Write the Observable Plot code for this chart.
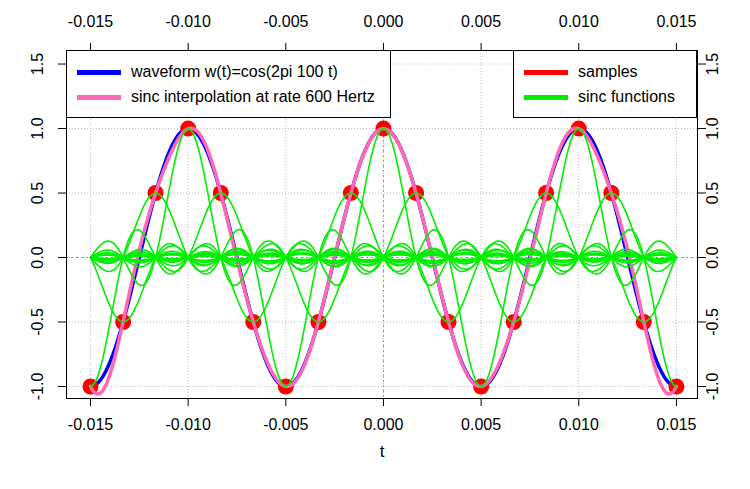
<!DOCTYPE html>
<html><head>
<script src="https://cdn.jsdelivr.net/npm/d3@7"></script>
<script src="https://cdn.jsdelivr.net/npm/@observablehq/plot@0.6"></script>
<style>
body{margin:0;background:#fff;font-family:"Liberation Sans",Arial,sans-serif}
#wrap{position:relative;width:750px;height:489px}
.leg{position:absolute;background:#fff;border:1px solid #000;font-size:16px;box-sizing:border-box}
.row{position:absolute;white-space:nowrap}
.sw{display:inline-block;width:44px;height:5px;vertical-align:middle;margin-right:10px}
</style>
</head><body>
<div id="wrap"></div>
<script>
const rate = 600;
const sampleTimes = [-0.015,-0.01333,-0.01167,-0.01,-0.00833,-0.00667,-0.005,-0.00333,-0.00167,0,0.00167,0.00333,0.005,0.00667,0.00833,0.01,0.01167,0.01333,0.015];
const sampleValues = [-1,-0.5,0.5,1,0.5,-0.5,-1,-0.5,0.5,1,0.5,-0.5,-1,-0.5,0.5,1,0.5,-0.5,-1];
const xTicks = [-0.015,-0.010,-0.005,0,0.005,0.010,0.015];
const yTicks = [-1,-0.5,0,0.5,1,1.5];

const sinc = x => x === 0 ? 1 : Math.sin(Math.PI*x)/(Math.PI*x);
const tGrid = d3.range(-0.015, 0.015000001, 0.00005);
const wave = tGrid.map(t => ({t, v: Math.cos(2*Math.PI*100*t)}));
const interp = tGrid.map(t => ({t, v: d3.sum(sampleTimes, (tk,i) => sampleValues[i]*sinc((t-tk)*rate))}));
const sincs = [];
sampleTimes.forEach((tk,i) => tGrid.filter((_,j)=>j%3===0).forEach(t => sincs.push({k:i, t, v: sampleValues[i]*sinc((t-tk)*rate)})));
const samples = sampleTimes.map((t,i)=>({t, v: sampleValues[i]}));
const fx = d => d.toFixed(3), fy = d => d.toFixed(1);

const plot = Plot.plot({
  width: 750, height: 489,
  marginLeft: 66, marginRight: 53, marginTop: 50, marginBottom: 91,
  x: {domain: [-0.01623, 0.01608]},
  y: {domain: [-1.093, 1.605]},
  style: {fontFamily: "Liberation Sans, Arial, sans-serif", fontSize: "16px", color: "#000"},
  marks: [
    Plot.gridX(xTicks, {stroke: "#bbb", strokeOpacity: 1, strokeDasharray: "1,2"}),
    Plot.gridY(yTicks, {stroke: "#bbb", strokeOpacity: 1, strokeDasharray: "1,2"}),
    Plot.ruleX([0], {stroke: "#33dd33", strokeDasharray: "2,3"}),
    Plot.ruleY([0], {stroke: "#33dd33", strokeDasharray: "2,3"}),
    Plot.line(wave, {x: "t", y: "v", stroke: "#0000ff", strokeWidth: 3.5}),
    Plot.dot(samples, {x: "t", y: "v", r: 8, fill: "#ff0000"}),
    Plot.line(interp, {x: "t", y: "v", stroke: "#ff69b4", strokeWidth: 3.5}),
    Plot.line(sincs, {x: "t", y: "v", z: "k", stroke: "#00ee00", strokeWidth: 1.6}),
    Plot.frame({stroke: "#000"}),
    Plot.axisX(xTicks, {anchor: "bottom", tickFormat: fx, tickSize: 8, tickPadding: 12, label: null, fontSize: 16}),
    Plot.axisX(xTicks, {anchor: "top", tickFormat: fx, tickSize: 8, tickPadding: 16, label: null, fontSize: 16}),
    Plot.axisY(yTicks, {anchor: "left", tickFormat: fy, tickSize: 8, tickPadding: 16, tickRotate: -90, label: null, fontSize: 16}),
    Plot.axisY(yTicks, {anchor: "right", tickFormat: fy, tickSize: 8, tickPadding: 12, tickRotate: -90, label: null, fontSize: 16}),
    Plot.text(["t"], {frameAnchor: "bottom", dy: 58, fontSize: 17})
  ]
});
const wrap = document.getElementById("wrap");
wrap.appendChild(plot);
wrap.insertAdjacentHTML("beforeend", `
<div class="leg" style="left:66px;top:50px;width:325px;height:68px">
 <div class="row" style="left:10px;top:12px"><span class="sw" style="background:#0000ff"></span>waveform w(t)=cos(2pi 100 t)</div>
 <div class="row" style="left:10px;top:37px"><span class="sw" style="background:#ff69b4"></span>sinc interpolation at rate 600 Hertz</div>
</div>
<div class="leg" style="left:513px;top:50px;width:184px;height:68px">
 <div class="row" style="left:10px;top:12px"><span class="sw" style="background:#ff0000"></span>samples</div>
 <div class="row" style="left:10px;top:37px"><span class="sw" style="background:#00ee00"></span>sinc functions</div>
</div>`);
</script>
</body></html>
